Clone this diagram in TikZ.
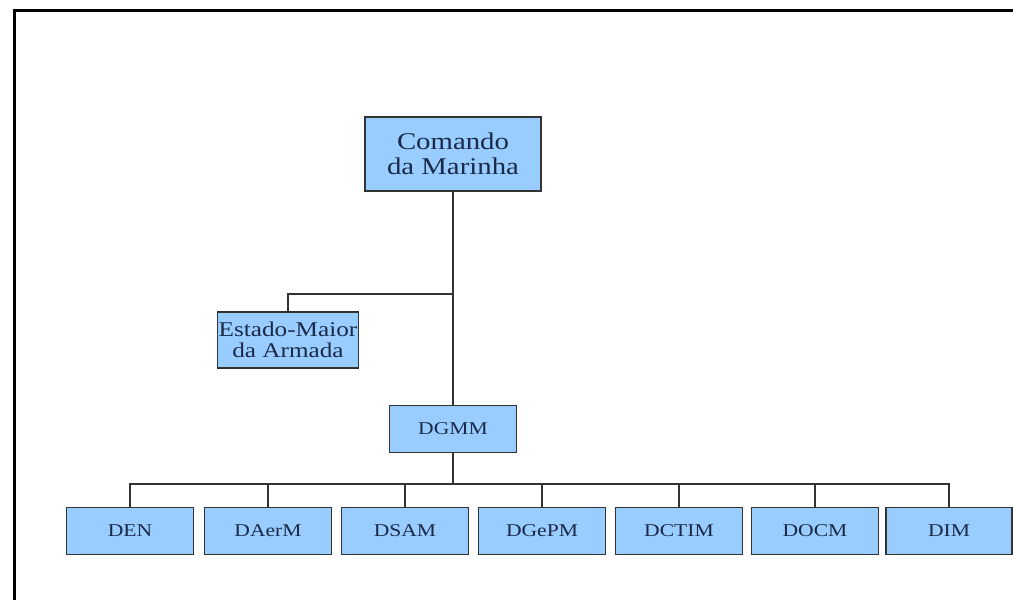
\documentclass[tikz,border=0pt]{standalone}
\usepackage{fontspec}
\setmainfont[FakeStretch=1.2]{Liberation Serif}
\definecolor{boxblue}{HTML}{99CCFF}
\definecolor{inkblue}{HTML}{1A2A48}
\begin{document}
\begin{tikzpicture}[x=1pt,y=-1pt,
    unit/.style={draw=black!80,fill=boxblue,text=inkblue,line width=1.2pt,
      inner sep=0pt,align=center,minimum width=127pt,minimum height=47pt,
      font=\fontsize{18}{18}\selectfont},
    link/.style={draw=black!80,line width=1.2pt}]
  \useasboundingbox (0,0) rectangle (1013,600);
  \draw[line width=3pt] (14,600) -- (14,10) -- (1013,10);
  \draw
    (453,154) node[unit,minimum width=176pt,minimum height=74pt,
      font=\fontsize{24}{25}\selectfont] (cmd){Comando\\da Marinha}
    (288,340) node[unit,minimum width=141pt,minimum height=56pt,
      font=\fontsize{21}{21}\selectfont] (ema){Estado-Maior\\da Armada}
    (453,429) node[unit] (dgmm){DGMM}
    (130,531) node[unit] (den){DEN}
    (268,531) node[unit] (daerm){DAerM}
    (405,531) node[unit] (dsam){DSAM}
    (542,531) node[unit] (dgepm){DGePM}
    (679,531) node[unit] (dctim){DCTIM}
    (815,531) node[unit] (docm){DOCM}
    (949,531) node[unit,minimum width=126pt] (dim){DIM};
  \coordinate (staff) at (453,294);
  \coordinate (bus) at (453,484);
  \begin{scope}[link]
    \draw (cmd) -- (dgmm);
    \draw (staff) -| (ema.north);
    \draw (dgmm) -- (bus);
    \draw (bus) -| (den.north);
    \draw (bus) -| (daerm.north);
    \draw (bus) -| (dsam.north);
    \draw (bus) -| (dgepm.north);
    \draw (bus) -| (dctim.north);
    \draw (bus) -| (docm.north);
    \draw (bus) -| (dim.north);
  \end{scope}
\end{tikzpicture}
\end{document}
